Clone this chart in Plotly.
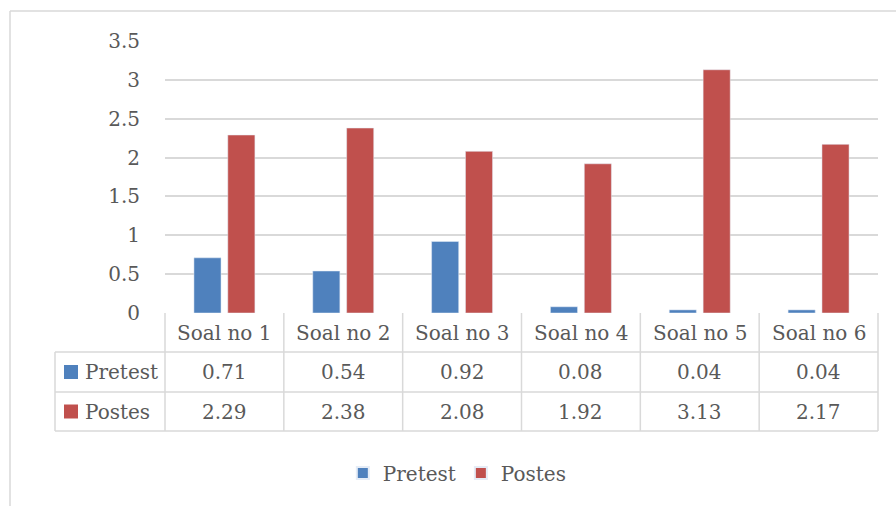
import plotly.graph_objects as go

categories = ["Soal no 1", "Soal no 2", "Soal no 3", "Soal no 4", "Soal no 5", "Soal no 6"]
series_names = ["Pretest", "Postes"]
pretest = [0.71, 0.54, 0.92, 0.08, 0.04, 0.04]
postes = [2.29, 2.38, 2.08, 1.92, 3.13, 2.17]
pretest_labels = ["0.71", "0.54", "0.92", "0.08", "0.04", "0.04"]
postes_labels = ["2.29", "2.38", "2.08", "1.92", "3.13", "2.17"]
y_ticks = [0, 0.5, 1, 1.5, 2, 2.5, 3, 3.5]
y_ticklabels = ["0", "0.5", "1", "1.5", "2", "2.5", "3", "3.5"]

colors = ["#4F81BD", "#C0504D"]
FONT = "DejaVu Serif"
TXT = "#595959"
GRID = "#D9D9D9"

W, H = 896, 506
L, R, T, B = 165, 18, 41, 193
plot_h = H - T - B
plot_w = W - L - R


def py(p):
    return (H - B - p) / plot_h


def px(p):
    return (p - L) / plot_w


fig = go.Figure()
fig.add_trace(go.Bar(x=categories, y=pretest, name=series_names[0], marker_color=colors[0]))
fig.add_trace(go.Bar(x=categories, y=postes, name=series_names[1], marker_color=colors[1]))

shapes = []
annotations = []
line = dict(color=GRID, width=1.5)
tfont = dict(family=FONT, size=20, color=TXT)

y_hdr_top, y_r1, y_r2, y_bot = 313, 352, 392, 431
x_left = px(55)

for yy in (y_r1, y_r2, y_bot):
    shapes.append(dict(type="line", xref="paper", yref="paper", x0=x_left, x1=1,
                       y0=py(yy), y1=py(yy), line=line))
n = len(categories)
for i in range(n + 1):
    shapes.append(dict(type="line", xref="paper", yref="paper", x0=i / n, x1=i / n,
                       y0=py(y_hdr_top), y1=py(y_bot), line=line))
shapes.append(dict(type="line", xref="paper", yref="paper", x0=x_left, x1=x_left,
                   y0=py(y_r1), y1=py(y_bot), line=line))

# outer chart frame
shapes.append(dict(type="line", xref="paper", yref="paper", x0=px(10), x1=px(900),
                   y0=py(11), y1=py(11), line=line))
shapes.append(dict(type="line", xref="paper", yref="paper", x0=px(10), x1=px(10),
                   y0=py(11), y1=py(510), line=line))

for i, c in enumerate(categories):
    annotations.append(dict(x=(i + 0.5) / n, y=py((y_hdr_top + y_r1) / 2), xref="paper", yref="paper",
                            xanchor="center", yanchor="middle",
                            text=c, showarrow=False, font=tfont))
for row_vals, row_y in ((pretest_labels, (y_r1 + y_r2) / 2), (postes_labels, (y_r2 + y_bot) / 2)):
    for i, v in enumerate(row_vals):
        annotations.append(dict(x=(i + 0.5) / n, y=py(row_y), xref="paper", yref="paper",
                                xanchor="center", yanchor="middle",
                                text=v, showarrow=False, font=tfont))
for name, col, row_y in ((series_names[0], colors[0], (y_r1 + y_r2) / 2),
                         (series_names[1], colors[1], (y_r2 + y_bot) / 2)):
    shapes.append(dict(type="rect", xref="paper", yref="paper", x0=px(64), x1=px(78),
                       y0=py(row_y + 7), y1=py(row_y - 7), fillcolor=col, line=dict(width=0)))
    annotations.append(dict(x=px(83), y=py(row_y), xref="paper", yref="paper", xanchor="left",
                            yanchor="middle", text=name, showarrow=False, font=tfont))

fig.update_layout(
    width=W, height=H, autosize=False,
    margin=dict(l=L, r=R, t=T, b=B),
    paper_bgcolor="white", plot_bgcolor="white",
    bargap=0.43, bargroupgap=0.2,
    font=tfont,
    xaxis=dict(showticklabels=False, showgrid=False, zeroline=False, range=[-0.5, 5.5], fixedrange=True),
    yaxis=dict(range=[0, 3.5], tickvals=y_ticks, ticktext=y_ticklabels, showgrid=True,
               gridcolor=GRID, gridwidth=1.5, zeroline=False, showline=False,
               ticks="", ticklabelstandoff=24, tickfont=tfont),
    legend=dict(orientation="h", x=0.41, xanchor="center", y=py(473), yanchor="middle",
                font=tfont, itemsizing="constant"),
    shapes=shapes, annotations=annotations,
)

fig.write_html("out.html", config={"displayModeBar": False},
               post_script="document.body.style.margin='0';")
